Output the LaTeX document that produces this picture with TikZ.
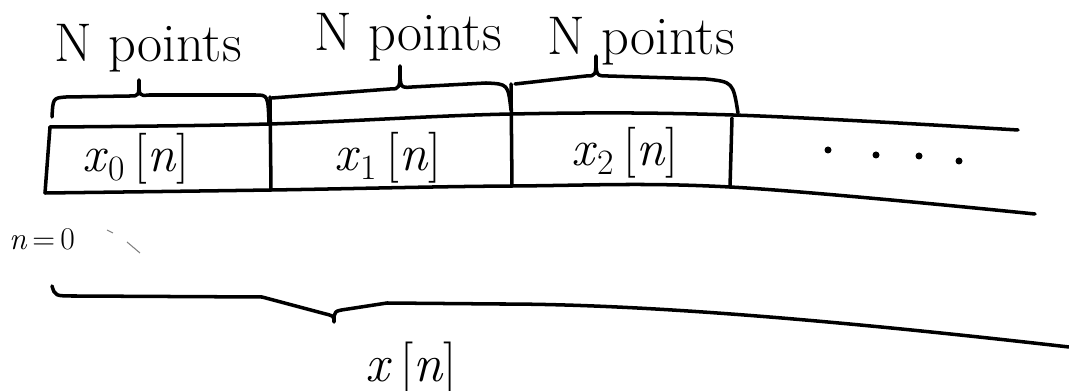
\documentclass[tikz,border=0pt]{standalone}
\usepackage{fontspec}
\usetikzlibrary{positioning, calc}

\newcommand{\handsize}[1]{\fontsize{#1}{#1}\selectfont}

\begin{document}
\begin{tikzpicture}[
  x=0.02cm, y=-0.02cm,
  pen/.style={line width=2pt, line cap=round, line join=round},
  txtbase/.style={inner sep=0pt},
  ptslabel/.style={txtbase, font=\handsize{31}},
  celltext/.style={txtbase, font=\handsize{29}},
  sumtext/.style={txtbase, font=\handsize{30}},
  idxtext/.style={txtbase, font=\handsize{18}}
  ]
  \useasboundingbox (0,0) rectangle (1069,391);

  %% strip: corners where the dividers meet the two long lines
  \coordinate (t0) at (50,127);
  \coordinate (t1) at (269,124);
  \coordinate (t2) at (511,114);
  \coordinate (t3) at (733,115);
  \coordinate (tend) at (1018,130);
  \coordinate (b0) at (45,193);
  \coordinate (b1) at (271,190);
  \coordinate (b2) at (512,186);
  \coordinate (b3) at (730,187);
  \coordinate (bend) at (1035,214);

  \draw[pen] plot[smooth, tension=0.6] coordinates {(t0) (t1) (t2) (t3) (tend)};
  \draw[pen] plot[smooth, tension=0.6] coordinates {(b0) (b1) (b2) (b3) (bend)};

  % dividers (the inner ones run up to the braces)
  \draw[pen] (t0) -- (b0);
  \draw[pen] (270,97) -- (b1);
  \draw[pen] (511,84) -- (b2);
  \draw[pen] (732,118) -- (b3);

  %% top braces, one per block
  \draw[pen] (52,117) .. controls (53,98) .. (66,97) -- (130,96)
    .. controls (139,96) .. (139,80) .. controls (139,96) .. (149,95)
    -- (255,95) .. controls (268,95) .. (t1);
  \draw[pen] (272,98) -- (390,89) .. controls (400,89) .. (400,66)
    .. controls (400,88) .. (412,87) -- (486,83) .. controls (508,84) .. (511,110);
  \draw[pen] (515,84) -- (586,76) .. controls (596,76) .. (596,56)
    .. controls (596,76) .. (608,76) -- (706,79) .. controls (733,82) .. (738,113);

  \foreach \i/\px/\py in {0/148/48, 1/408/37, 2/641/41}
    \node[ptslabel] (pts\i) at (\px,\py) {N points};

  %% block contents
  \foreach \i/\cx/\cy in {0/136/159, 1/388/158, 2/625/153}
    \node[celltext] (cell\i) at (\cx,\cy) {\textit{x}\textsubscript{\i}\,[\textit{n}]};

  \foreach \i/\dx/\dy in {0/828/150, 1/876/155, 2/919/156, 3/959/161}
    \fill (\dx,\dy) circle[radius=3.5];

  %% start index
  \node[idxtext] (nzero) at (42,239) {\textit{n}\,=\,0};
  \draw[line width=0.6pt, gray] (107,230) -- (113,233);
  \draw[line width=0.6pt, gray] (127,242) -- (140,253);

  %% bottom brace over the whole signal
  \draw[pen] (52,286) .. controls (55,296) .. (75,296) -- (262,297) -- (322,313)
    .. controls (334,316) .. (334,322) .. controls (334,311) .. (348,309)
    -- (387,303) -- (500,304) .. controls (650,304) and (850,322) .. (1069,347);

  \node[sumtext] (whole) at (411,368) {\textit{x}\,[\textit{n}]};
\end{tikzpicture}
\end{document}
